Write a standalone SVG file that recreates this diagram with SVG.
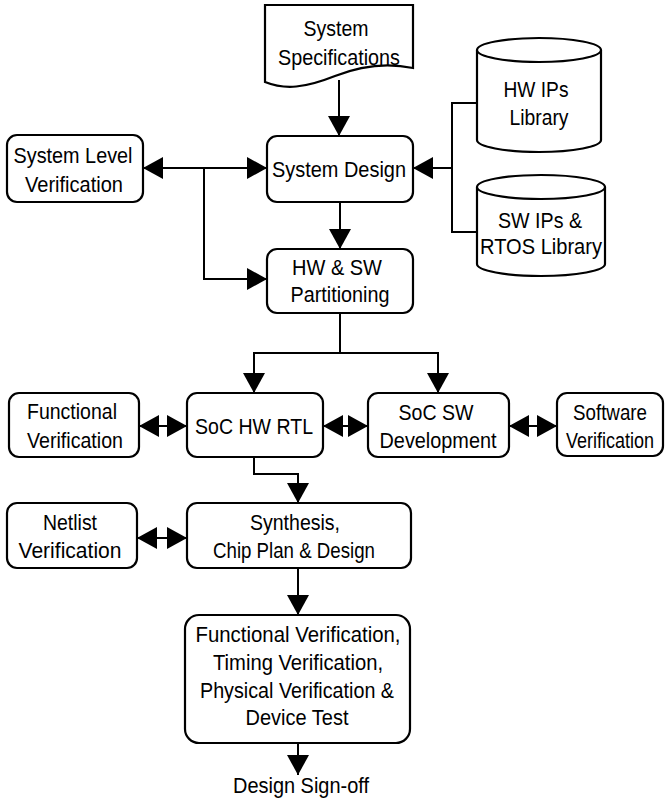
<svg xmlns="http://www.w3.org/2000/svg" width="665" height="802" viewBox="0 0 665 802">
  <style>
    .box { fill: #fff; stroke: #000; stroke-width: 2.2; }
    .lbl { font-family: "Liberation Sans", Arial, sans-serif; font-size: 22.5px; fill: #000; text-anchor: middle; }
    .wire { fill: none; stroke: #000; stroke-width: 2; }
    .to { marker-end: url(#head); }
    .both { marker-start: url(#head); marker-end: url(#head); }
  </style>
  <defs>
    <marker id="head" markerUnits="userSpaceOnUse" markerWidth="21" markerHeight="22" refX="20" refY="11" orient="auto-start-reverse">
      <path d="M0,0 L20,11 L0,22 Z" fill="#000"/>
    </marker>
  </defs>
  <rect width="665" height="802" fill="#fff"/>

  <!-- connectors -->
  <g id="connectors">
    <path class="wire to" d="M339,80 V136"/>
    <path class="wire to" d="M340,202 V249"/>
    <path class="wire" d="M477,103 H452 V232 H477"/>
    <path class="wire to" d="M452,168 H413"/>
    <path class="wire both" d="M143,168 H267"/>
    <path class="wire to" d="M204,168 V279 H267"/>
    <path class="wire" d="M340,313 V353"/>
    <path class="wire to" d="M340,353 H254 V393"/>
    <path class="wire to" d="M340,353 H438 V393"/>
    <path class="wire both" d="M139,426 H187"/>
    <path class="wire both" d="M323,426 H368"/>
    <path class="wire both" d="M509,426 H557"/>
    <path class="wire to" d="M254,457 V474 H298 V503"/>
    <path class="wire both" d="M137,538 H187"/>
    <path class="wire to" d="M298,568 V615"/>
    <path class="wire to" d="M298,743 V775"/>
  </g>

  <!-- document node -->
  <g id="system-specifications">
    <path class="box" d="M265,5 H413 V68 C385,62 360,66 335,76 C305,88 285,90 265,82 Z"/>
    <text class="lbl" x="336" y="36" textLength="65" lengthAdjust="spacingAndGlyphs">System</text>
    <text class="lbl" x="339" y="65" textLength="122" lengthAdjust="spacingAndGlyphs">Specifications</text>
  </g>

  <!-- library cylinders -->
  <g id="hw-ips-library">
    <path class="box" d="M477,50 V140 A62,12 0 0 0 601,140 V50"/>
    <ellipse class="box" cx="539" cy="50" rx="62" ry="12"/>
    <text class="lbl" x="536" y="97" textLength="65" lengthAdjust="spacingAndGlyphs">HW IPs</text>
    <text class="lbl" x="539" y="125" textLength="59" lengthAdjust="spacingAndGlyphs">Library</text>
  </g>
  <g id="sw-ips-rtos-library">
    <path class="box" d="M477,187 V264 A64,12 0 0 0 605,264 V187"/>
    <ellipse class="box" cx="541" cy="187" rx="64" ry="12"/>
    <text class="lbl" x="540" y="228" textLength="84" lengthAdjust="spacingAndGlyphs">SW IPs &amp;</text>
    <text class="lbl" x="541" y="254" textLength="122" lengthAdjust="spacingAndGlyphs">RTOS Library</text>
  </g>

  <!-- process boxes -->
  <g id="system-level-verification">
    <rect class="box" x="7" y="135" width="136" height="67" rx="10"/>
    <text class="lbl" x="73" y="163" textLength="119" lengthAdjust="spacingAndGlyphs">System Level</text>
    <text class="lbl" x="74" y="192" textLength="98" lengthAdjust="spacingAndGlyphs">Verification</text>
  </g>
  <g id="system-design">
    <rect class="box" x="267" y="136" width="146" height="66" rx="10"/>
    <text class="lbl" x="339" y="177" textLength="134" lengthAdjust="spacingAndGlyphs">System Design</text>
  </g>
  <g id="hw-sw-partitioning">
    <rect class="box" x="267" y="249" width="146" height="64" rx="10"/>
    <text class="lbl" x="337" y="275" textLength="90" lengthAdjust="spacingAndGlyphs">HW &amp; SW</text>
    <text class="lbl" x="340" y="302" textLength="99" lengthAdjust="spacingAndGlyphs">Partitioning</text>
  </g>
  <g id="functional-verification">
    <rect class="box" x="9" y="393" width="130" height="64" rx="10"/>
    <text class="lbl" x="72" y="419" textLength="90" lengthAdjust="spacingAndGlyphs">Functional</text>
    <text class="lbl" x="75" y="448" textLength="96" lengthAdjust="spacingAndGlyphs">Verification</text>
  </g>
  <g id="soc-hw-rtl">
    <rect class="box" x="187" y="393" width="136" height="64" rx="10"/>
    <text class="lbl" x="254" y="434" textLength="118" lengthAdjust="spacingAndGlyphs">SoC HW RTL</text>
  </g>
  <g id="soc-sw-development">
    <rect class="box" x="368" y="393" width="141" height="64" rx="10"/>
    <text class="lbl" x="436" y="420" textLength="75" lengthAdjust="spacingAndGlyphs">SoC SW</text>
    <text class="lbl" x="438" y="448" textLength="117" lengthAdjust="spacingAndGlyphs">Development</text>
  </g>
  <g id="software-verification">
    <rect class="box" x="557" y="393" width="106" height="63" rx="10"/>
    <text class="lbl" x="610" y="420" textLength="74" lengthAdjust="spacingAndGlyphs">Software</text>
    <text class="lbl" transform="translate(610,448) scale(0.8,1)" x="0" y="0">Verification</text>
  </g>
  <g id="netlist-verification">
    <rect class="box" x="7" y="503" width="130" height="65" rx="10"/>
    <text class="lbl" x="70" y="530" textLength="54" lengthAdjust="spacingAndGlyphs">Netlist</text>
    <text class="lbl" x="70" y="558" textLength="103" lengthAdjust="spacingAndGlyphs">Verification</text>
  </g>
  <g id="synthesis-chip-plan">
    <rect class="box" x="187" y="503" width="224" height="65" rx="10"/>
    <text class="lbl" x="295" y="530" textLength="90" lengthAdjust="spacingAndGlyphs">Synthesis,</text>
    <text class="lbl" x="294" y="558" textLength="162" lengthAdjust="spacingAndGlyphs">Chip Plan &amp; Design</text>
  </g>
  <g id="final-verification">
    <rect class="box" x="185" y="615" width="225" height="128" rx="14"/>
    <text class="lbl" x="298" y="642" textLength="205" lengthAdjust="spacingAndGlyphs">Functional Verification,</text>
    <text class="lbl" x="298" y="670" textLength="170" lengthAdjust="spacingAndGlyphs">Timing Verification,</text>
    <text class="lbl" x="297" y="698" textLength="194" lengthAdjust="spacingAndGlyphs">Physical Verification &amp;</text>
    <text class="lbl" x="297" y="725" textLength="103" lengthAdjust="spacingAndGlyphs">Device Test</text>
  </g>
  <g id="design-sign-off">
    <text class="lbl" x="301" y="793" textLength="136" lengthAdjust="spacingAndGlyphs">Design Sign-off</text>
  </g>
</svg>
